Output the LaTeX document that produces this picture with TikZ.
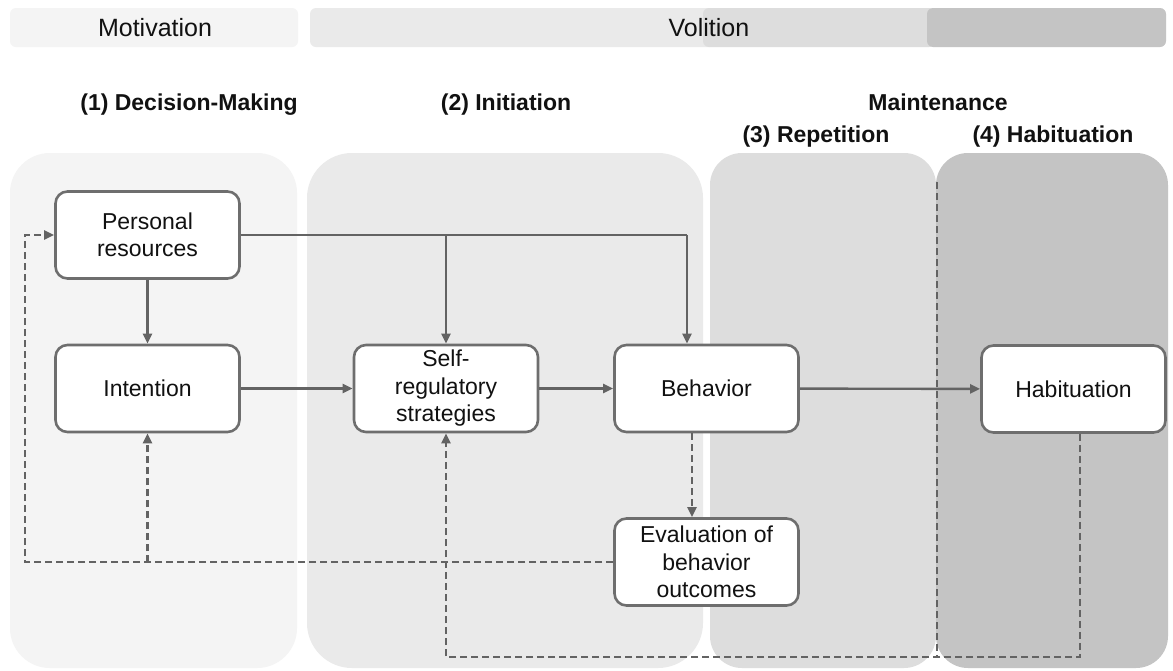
\documentclass[tikz,border=0pt]{standalone}
\usepackage{fontspec}
\setmainfont{Liberation Sans}
\usetikzlibrary{arrows.meta}
\definecolor{pA}{HTML}{F4F4F4}
\definecolor{pB}{HTML}{EAEAEA}
\definecolor{pC}{HTML}{DDDDDD}
\definecolor{pD}{HTML}{C4C4C4}
\definecolor{lineg}{HTML}{636363}
\definecolor{boxg}{HTML}{6E6E6E}
\definecolor{txt}{HTML}{111111}
\tikzset{
  box/.style={draw=boxg, line width=2.6pt, fill=white, rounded corners=12pt,
    minimum width=184pt, minimum height=87pt, inner sep=0pt, align=center,
    text=txt, font=\fontsize{23}{27.5}\selectfont},
  head/.style={text=txt, font=\fontsize{23}{26}\selectfont\bfseries, inner sep=0pt},
  barlabel/.style={text=txt, font=\fontsize{25}{28}\selectfont, inner sep=0pt},
  flow/.style={draw=lineg, line width=2.4pt, -{Triangle[length=10pt,width=9pt]}},
  link/.style={draw=lineg, line width=2.4pt},
  fb/.style={draw=lineg, line width=2.4pt, dash pattern=on 7pt off 4pt},
  fbarrow/.style={fb, -{Triangle[length=10pt,width=9pt]}},
}
\begin{document}
\begin{tikzpicture}[x=1pt, y=-1pt]
\useasboundingbox (0,0) rectangle (1173,670);
\fill[white] (0,0) rectangle (1173,670);

% phase bars along the top
\fill[pA, rounded corners=6pt] (10,8) rectangle (298,47);
\fill[pB, rounded corners=6pt] (310,8) rectangle (715,47);
\fill[pC, rounded corners=6pt] (703,8) rectangle (935,47);
\fill[pD, rounded corners=6pt] (927,8) rectangle (1166,47);
\node[barlabel] (lmot) at (155,28) {Motivation};
\node[barlabel] (lvol) at (709,28) {Volition};

% stage panels
\fill[pA, rounded corners=40pt] (10,153) rectangle (297,668);
\fill[pB, rounded corners=45pt] (307,153) rectangle (703,668);
\fill[pC, rounded corners=32pt] (710,153) rectangle (936,668);
\fill[pD, rounded corners=32pt] (936,153) rectangle (1168,668);

% stage headings
\node[head] (h1) at (189,105) {(1) Decision-Making};
\node[head] (h2) at (506,105) {(2) Initiation};
\node[head] (hm) at (938,102) {Maintenance};
\node[head] (h3) at (816,137) {(3) Repetition};
\node[head] (h4) at (1053,137) {(4) Habituation};

% process boxes
\node[box] (pr)  at (147.5,235) {Personal\\resources};
\node[box] (int) at (147.5,388.5) {Intention};
\node[box] (sr)  at (446,388.5) {Self-\\regulatory\\strategies};
\node[box] (beh) at (706.5,388.5) {Behavior};
\node[box] (ev)  at (706.5,562) {Evaluation of\\behavior\\outcomes};
\node[box] (hab) at (1073.5,389) {Habituation};

% helper coordinates for the routed lines
\coordinate (fbL) at (25,0);
\coordinate (fbB) at (0,657);
\coordinate (sepT) at (937,182);
\coordinate (behIn) at ([xshift=-19.5pt]beh.north);
\coordinate (behOut) at ([xshift=-14.5pt]beh.south);
\coordinate (habOut) at ([xshift=6.5pt]hab.south);

% main solid flow
\draw[flow] (pr) -- (int);
\draw[link] (pr.east) -- (pr.east -| behIn);
\draw[flow] (pr.east -| sr.north) -- (sr.north);
\draw[flow] (pr.east -| behIn) -- (behIn);
\draw[flow] (int) -- (sr);
\draw[flow] (sr) -- (beh);
\draw[flow] (beh) -- (hab);

% dashed feedback loops
\draw[fb] (sepT) -- (sepT |- fbB);
\draw[fbarrow] (behOut) -- (behOut |- ev.north);
\draw[fbarrow] (ev.west) -- (ev.west -| fbL) -- (fbL |- pr.west) -- (pr.west);
\draw[fbarrow] (ev.west -| int.south) -- (int.south);
\draw[fbarrow] (habOut) -- (habOut |- fbB) -- (sr.south |- fbB) -- (sr.south);
\end{tikzpicture}
\end{document}
